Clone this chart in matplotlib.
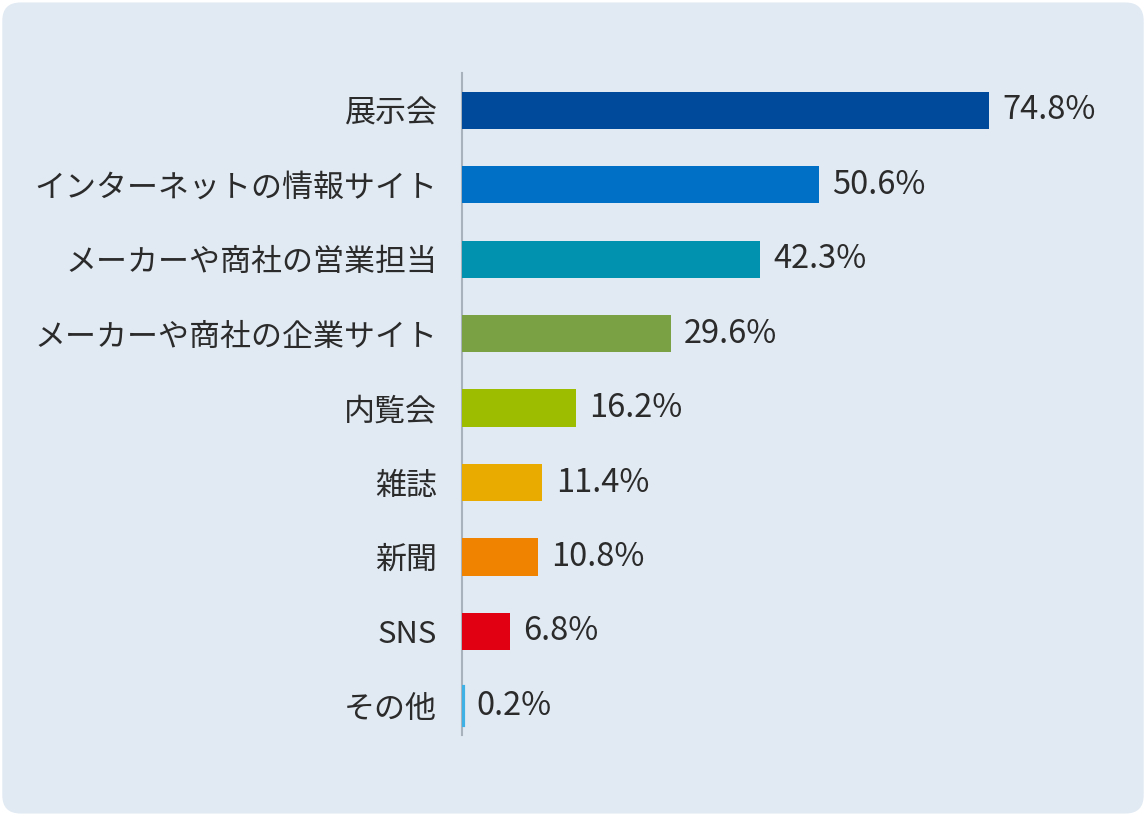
import matplotlib as mpl
mpl.use("Agg")
import matplotlib.pyplot as plt
from matplotlib.patches import FancyBboxPatch

plt.rcParams["font.family"] = ["Noto Sans CJK JP", "DejaVu Sans"]

# data
categories = ["展示会", "インターネットの情報サイト", "メーカーや商社の営業担当",
              "メーカーや商社の企業サイト", "内覧会", "雑誌", "新聞", "SNS", "その他"]
values = [74.8, 50.6, 42.3, 29.6, 16.2, 11.4, 10.8, 6.8, 0.2]
colors = ["#004a9c", "#0070c6", "#0092ae", "#7aa144", "#9cbd00",
          "#eaab00", "#f08300", "#e00012", "#3fb1e5"]

BG = "#e1eaf3"
TXT = "#2b2b2b"
W, H = 1146, 816

fig = plt.figure(figsize=(W / 100, H / 100), dpi=100)
fig.patch.set_facecolor("white")
fig.patches.append(FancyBboxPatch((0.002, 0.003), 0.996, 0.994,
                                  boxstyle="round,pad=0,rounding_size=0.016",
                                  transform=fig.transFigure, facecolor=BG,
                                  edgecolor="none", zorder=-10,
                                  mutation_aspect=W / H))

left, right = 462 / W, 1130 / W
top, bottom = 1 - 73 / H, 1 - 735 / H
ax = fig.add_axes([left, bottom, right - left, top - bottom])
ax.set_facecolor("none")

ypos = list(range(len(categories)))
# thin edge so the tiny "その他" bar stays visible, as in the original
ax.barh(ypos, values, height=0.5, color=colors, edgecolor=colors,
        linewidth=[0] * (len(values) - 1) + [3], zorder=3)
for y, v in zip(ypos, values):
    ax.text(v + 1.9, y, f"{v:.1f}%", va="center", ha="left",
            fontsize=23.5, color=TXT)

ax.set_xlim(0, (1130 - 462) / 7.05)
ax.set_ylim(8.39, -0.5)
ax.set_yticks(ypos)
ax.set_yticklabels(categories, fontsize=22.3, color=TXT)
ax.tick_params(axis="y", length=0, pad=18)
ax.set_xticks([])
for s in ("top", "right", "bottom"):
    ax.spines[s].set_visible(False)
ax.spines["left"].set_color("#a7b2bd")
ax.spines["left"].set_linewidth(1.5)
ax.spines["left"].set_zorder(1)

fig.savefig("out.png", dpi=100, facecolor="white")
